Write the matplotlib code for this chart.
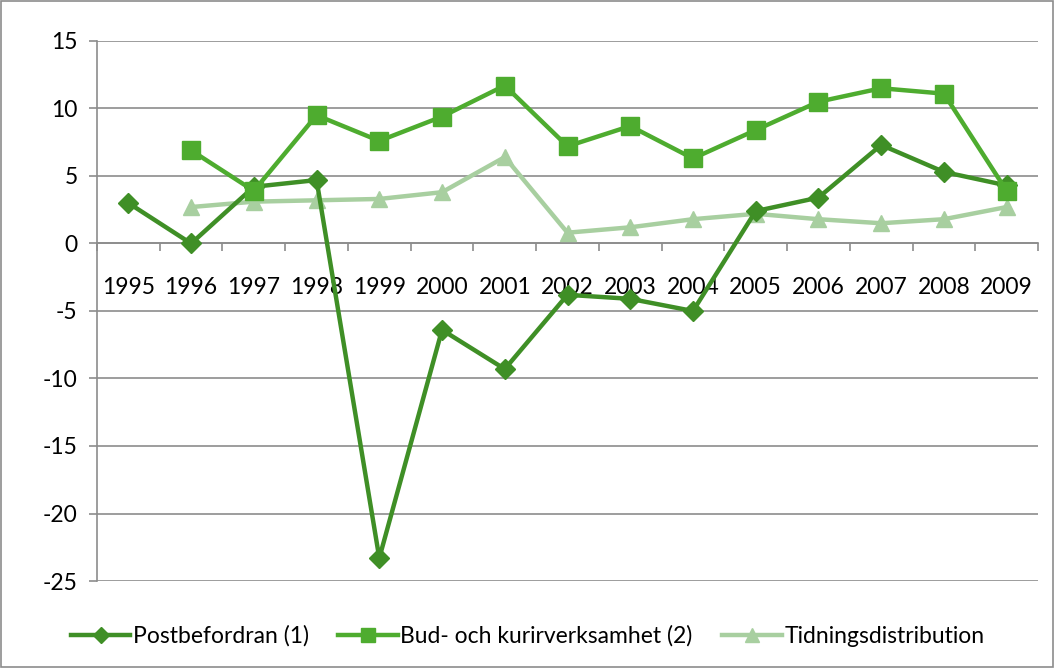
import matplotlib
matplotlib.use("Agg")
import matplotlib.pyplot as plt
import numpy as np
from matplotlib.patches import Rectangle

years = [str(y) for y in range(1995, 2010)]
postbefordran = [3.0, 0.0, 4.2, 4.7, -23.3, -6.4, -9.3, -3.8, -4.1, -5.0, 2.4, 3.4, 7.3, 5.3, 4.3]
bud = [np.nan, 6.9, 3.9, 9.5, 7.6, 9.4, 11.7, 7.2, 8.7, 6.3, 8.4, 10.5, 11.5, 11.1, 3.9]
tidning = [np.nan, 2.7, 3.1, 3.2, 3.3, 3.8, 6.4, 0.8, 1.2, 1.8, 2.2, 1.8, 1.5, 1.8, 2.7]

plt.rcParams['font.family'] = ['Lato', 'DejaVu Sans']
plt.rcParams['axes.unicode_minus'] = False

fig = plt.figure(figsize=(10.55, 6.68), dpi=100)
ax = fig.add_axes([97/1055, 1-581/668, (1038-97)/1055, (581-41)/668])

x = np.arange(len(years))
c1, c2, c3 = '#3F8F26', '#4EAC2F', '#A8CFA0'
ax.plot(x, tidning, color=c3, lw=3.2, marker='^', ms=12, label='Tidningsdistribution', zorder=3)
ax.plot(x, postbefordran, color=c1, lw=3.2, marker='D', ms=10, label='Postbefordran (1)', zorder=4)
ax.plot(x, bud, color=c2, lw=3.2, marker='s', ms=13, label='Bud- och kurirverksamhet (2)', zorder=5)

ax.set_xlim(-0.5, len(years) - 0.5)
ax.set_ylim(-25, 15)
ax.set_yticks(np.arange(-25, 16, 5))
ax.yaxis.grid(True, color='#8c8c8c', lw=1.2)
ax.set_axisbelow(True)
for s in ['top', 'right']:
    ax.spines[s].set_visible(False)
ax.spines['left'].set_color('#8c8c8c')
ax.spines['left'].set_linewidth(1.2)
ax.spines['bottom'].set_position(('data', 0))
ax.spines['bottom'].set_color('#8c8c8c')
ax.spines['bottom'].set_linewidth(1.2)

ax.set_xticks(x)
ax.set_xticklabels(years)
ax.set_xticks(np.arange(-0.5, len(years), 1.0), minor=True)
ax.tick_params(axis='x', which='major', length=0, pad=24, labelsize=16.5)
ax.tick_params(axis='x', which='minor', length=6, width=1.2, color='#8c8c8c', direction='out')
ax.tick_params(axis='y', length=6, width=1.2, color='#8c8c8c', labelsize=16.5, pad=8)

handles, labels = ax.get_legend_handles_labels()
order = [1, 2, 0]
fig.legend([handles[i] for i in order], [labels[i] for i in order], loc='center',
           bbox_to_anchor=(0.5, 1 - 636/668), ncol=3, frameon=False, fontsize=16.5,
           handlelength=2.6, handletextpad=0.1, columnspacing=1.3, markerscale=0.8)

fig.add_artist(Rectangle((0.001, 0.001), 0.997, 0.997, transform=fig.transFigure,
                         fill=False, edgecolor='#8c8c8c', lw=1.2))

fig.savefig('out.png', dpi=100)
